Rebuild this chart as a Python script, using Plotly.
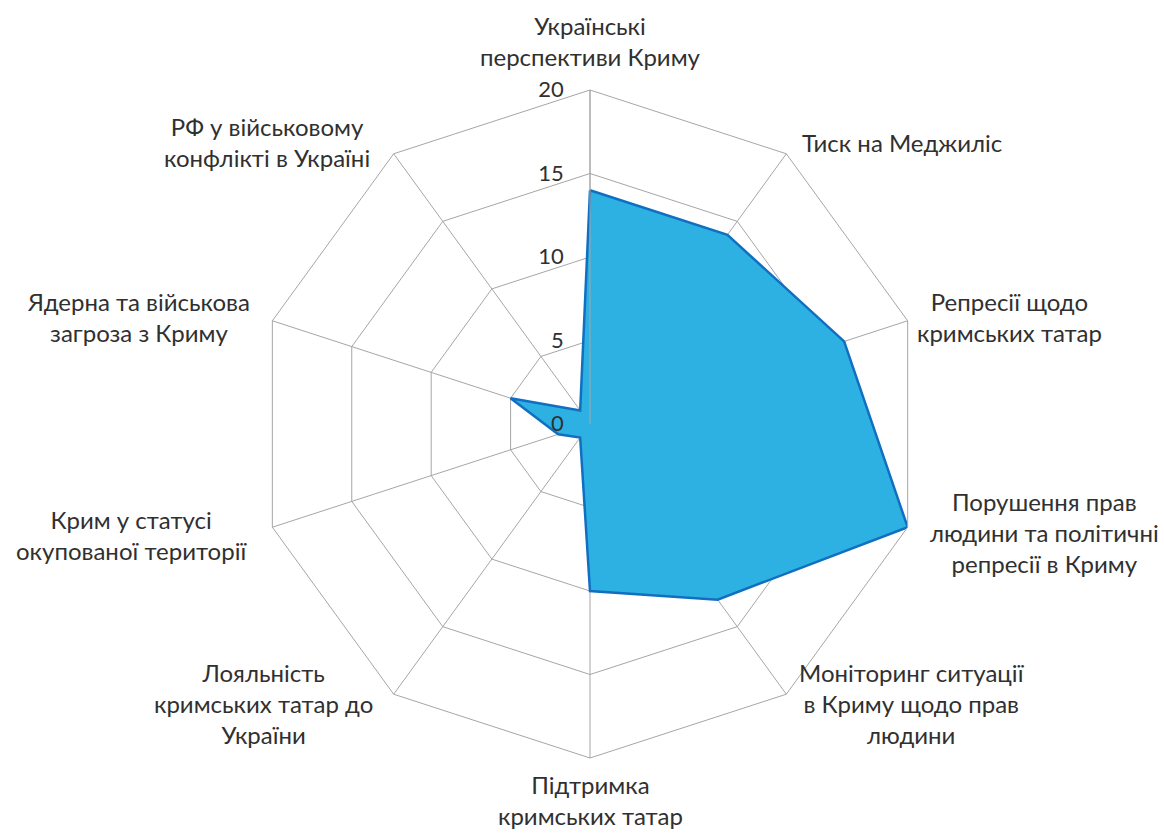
import math
import plotly.graph_objects as go

categories = [
    "Українські<br>перспективи Криму",
    "Тиск на Меджиліс",
    "Репресії щодо<br>кримських татар",
    "Порушення прав<br>людини та політичні<br>репресії в Криму",
    "Моніторинг ситуації<br>в Криму щодо прав<br>людини",
    "Підтримка<br>кримських татар",
    "Лояльність<br>кримських татар до<br>України",
    "Крим у статусі<br>окупованої території",
    "Ядерна та військова<br>загроза з Криму",
    "РФ у військовому<br>конфлікті в Україні",
]
values = [14, 14, 16, 20, 13, 10, 1, 2, 5, 1]
radial_ticks = [0, 5, 10, 15, 20]

W, H = 1164, 834
cx, cy, R = 590, 424, 334
FONT = "Lato, 'Open Sans', sans-serif"
TXT = "#303030"

fig = go.Figure()
fig.add_trace(go.Scatterpolar(
    r=values + [values[0]],
    theta=categories + [categories[0]],
    mode="lines",
    fill="toself",
    fillcolor="#2DB1E2",
    line=dict(color="#116FC2", width=2.5),
    hoverinfo="skip",
))

# category label placement (pixel offsets from each outer vertex)
offsets = [(0, -17), (14, -11), (7, -4), (20, 5), (11, 9),
           (0, 10), (-19, 9), (-22, 8), (-20, -4), (-22, -12)]
annotations = []
n = len(categories)
for i, lab in enumerate(categories):
    a = math.radians(90 - 360.0 / n * i)
    vx, vy = cx + R * math.cos(a), cy - R * math.sin(a)
    dx, dy = offsets[i]
    px, py = vx + dx, vy + dy
    c = math.cos(a)
    xa = "left" if c > 0.1 else ("right" if c < -0.1 else "center")
    ya = "bottom" if i == 0 else ("top" if i == n // 2 else "middle")
    annotations.append(dict(
        x=px / W, y=1 - py / H, xref="paper", yref="paper",
        text=lab, showarrow=False, xanchor=xa, yanchor=ya, align="center",
        font=dict(family=FONT, size=24, color=TXT),
    ))

fig.update_layout(
    width=W, height=H,
    margin=dict(l=0, r=0, t=0, b=0),
    paper_bgcolor="white",
    showlegend=False,
    annotations=annotations,
    font=dict(family=FONT, size=22, color=TXT),
    polar=dict(
        domain=dict(x=[(cx - R) / W, (cx + R) / W], y=[(H - cy - R) / H, (H - cy + R) / H]),
        bgcolor="white",
        gridshape="linear",
        angularaxis=dict(
            rotation=90, direction="clockwise",
            showline=True, linecolor="#A6A6A6", linewidth=1,
            gridcolor="#A6A6A6", gridwidth=1,
            ticks="", showticklabels=False,
        ),
        radialaxis=dict(
            range=[0, 20], tickvals=radial_ticks, ticktext=[str(v) for v in radial_ticks],
            angle=90, tickangle=90, side="counterclockwise",
            showline=True, linecolor="#A6A6A6", linewidth=1,
            gridcolor="#A6A6A6", gridwidth=1,
            ticks="outside", ticklen=18, tickcolor="rgba(0,0,0,0)",
            tickfont=dict(family=FONT, size=22, color=TXT),
            layer="above traces",
        ),
    ),
)

fig.write_html("out.html", config={"displayModeBar": False},
               post_script="document.body.style.margin='0';")
